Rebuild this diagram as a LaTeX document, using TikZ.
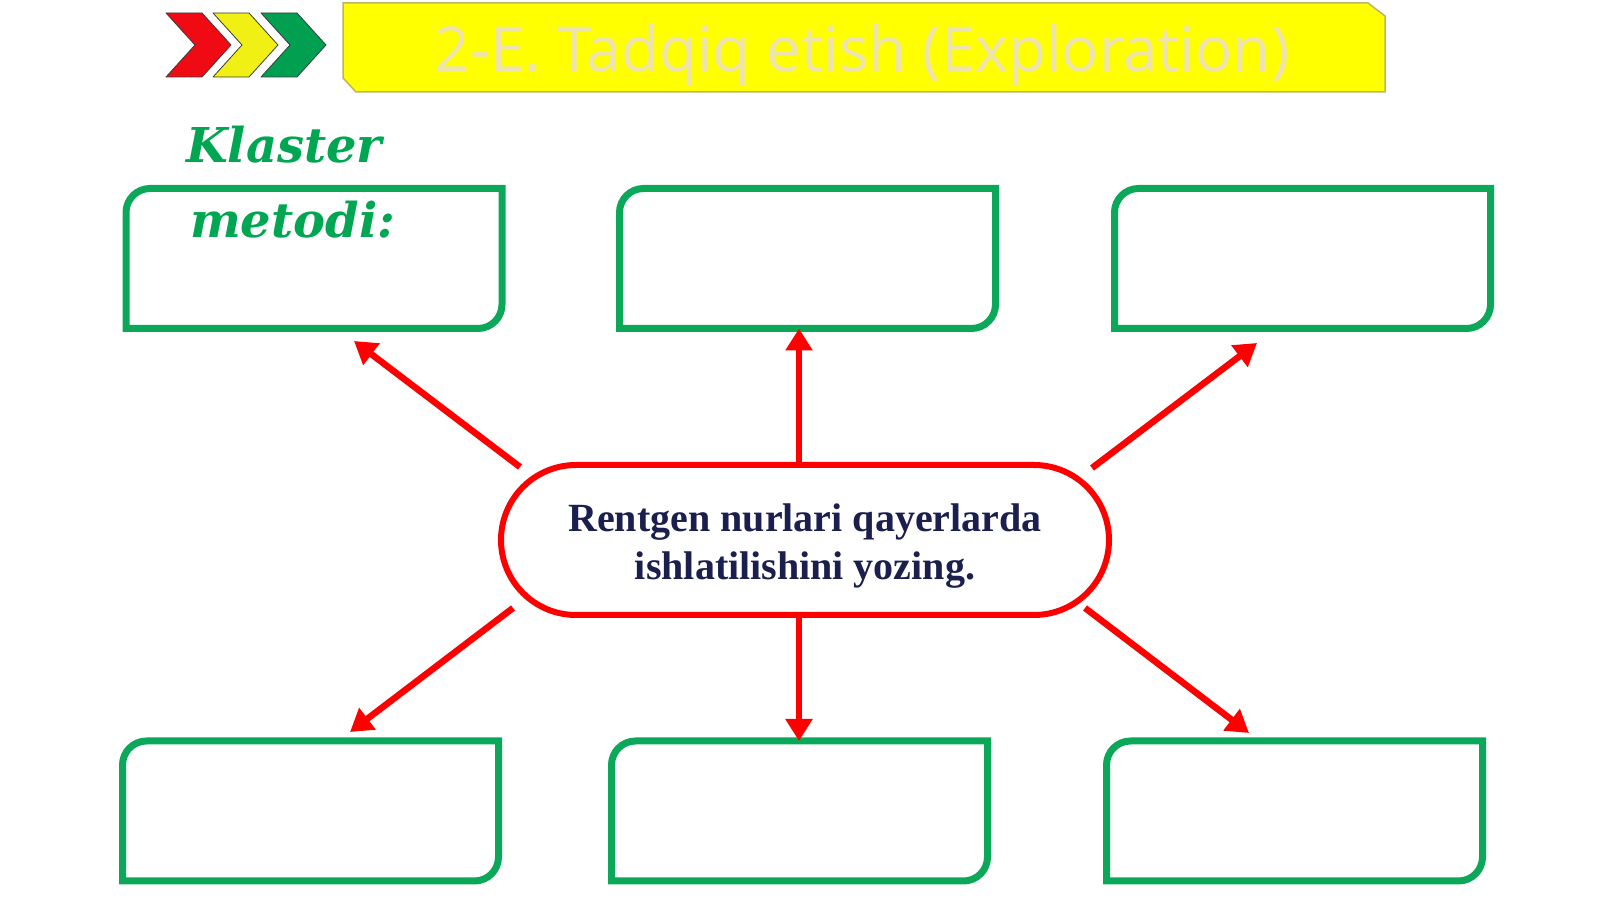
\documentclass[tikz,border=0pt]{standalone}
\usepackage{fontspec}
\setmainfont{Liberation Serif}
\newfontfamily\titlefont{Open Sans}
\newfontfamily\klfont{DejaVu Serif}
\usetikzlibrary{arrows.meta,calc}
\definecolor{boxgreen}{RGB}{10,168,88}
\definecolor{textgreen}{RGB}{0,166,81}
\definecolor{arrred}{RGB}{255,0,0}
\definecolor{navytext}{RGB}{26,31,77}
\definecolor{titleyellow}{RGB}{255,255,0}
\definecolor{titleedge}{RGB}{190,180,100}
\definecolor{titletext}{RGB}{238,228,175}
\definecolor{chred}{RGB}{240,10,20}
\definecolor{chyellow}{RGB}{240,240,20}
\definecolor{chgreen}{RGB}{0,160,80}
\definecolor{chedge}{RGB}{60,60,60}
\newcommand\slotframe[1]{\draw[slotline] (#1.west) [rounded corners=24pt] -- (#1.north west) -- (#1.north) [sharp corners] -- (#1.north east) -- (#1.east) [rounded corners=24pt] -- (#1.south east) -- (#1.south) [sharp corners] -- (#1.south west) -- cycle;}
\begin{document}
\begin{tikzpicture}[x=1pt,y=1pt,
  slot/.style={rectangle, draw=none, inner sep=0pt, outer sep=0pt, minimum width=376pt, minimum height=140pt},
  slotline/.style={draw=boxgreen, line width=7pt},
  arr/.style={draw=arrred, line width=6.5pt, -{Triangle[width=26pt,length=22pt]}},
  chev/.style={draw=chedge, line width=0.8pt, line join=round},
  kl/.style={anchor=base west, text=textgreen, font=\klfont\bfseries\itshape\fontsize{48}{60}\selectfont, inner sep=0pt},
]
\fill[white] (0,0) rectangle (1600,899);
\useasboundingbox (0,0) rectangle (1600,899);

% chevrons
\foreach \dx/\col in {0/chred,47/chyellow,95/chgreen}{
  \filldraw[chev, fill=\col] ($(166,886)+(\dx,0)$) -- ++(36,0) -- ++(29,-32) -- ++(-29,-32) -- ++(-36,0) -- ++(29,32) -- cycle;
}

% title bar
\filldraw[fill=titleyellow, draw=titleedge, line width=1.5pt]
  (343,896) -- (1368,896) -- (1385,883) -- (1385,807) -- (356,807) -- (343,821) -- cycle;
\node[anchor=base, text=titletext, font=\titlefont\fontsize{62}{70}\selectfont, inner sep=0pt] (title) at (862,827) {2-E. Tadqiq etish (Exploration)};

% slots
\node[slot] (tl) at (314,640.5) {};
\node[slot] (tm) at (807.5,640.5) {};
\node[slot] (tr) at (1302.5,640.5) {};
\node[slot] (bl) at (310.5,88) {};
\node[slot] (bm) at (799.5,88) {};
\node[slot] (br) at (1294.5,88) {};
\slotframe{tl}\slotframe{tm}\slotframe{tr}\slotframe{bl}\slotframe{bm}\slotframe{br}

% heading
\node[kl] (kl1) at (186,736) {Klaster};
\node[kl] (kl2) at (190,661) {metodi:};

% centre
\node[draw=arrred, line width=6pt, rounded corners=75pt, minimum width=608pt, minimum height=150pt, fill=white] (c) at (805,359) {};
\node[align=center, text=navytext, font=\bfseries\fontsize{40}{48}\selectfont, inner sep=0pt] (ctext) at ([yshift=-6pt]c.center) {Rentgen nurlari qayerlarda\\ishlatilishini yozing.};

% arrows
\draw[arr] ($(c.center)+(-285,73)$) -- ($(tl.south)+(40,-12.5)$);
\draw[arr] ([xshift=-6pt]c.north) -- ([xshift=-6pt]c.north |- tm.south);
\draw[arr] ($(c.center)+(287,72)$) -- ($(tr.south)+(-45.5,-14.5)$);
\draw[arr] ($(c.center)+(-292,-68)$) -- ($(bl.north)+(39.5,9)$);
\draw[arr] ([xshift=-6pt]c.south) -- ([xshift=-6pt]c.south |- bm.north);
\draw[arr] ($(c.center)+(280,-68)$) -- ($(br.north)+(-45.5,8)$);
\end{tikzpicture}
\end{document}
